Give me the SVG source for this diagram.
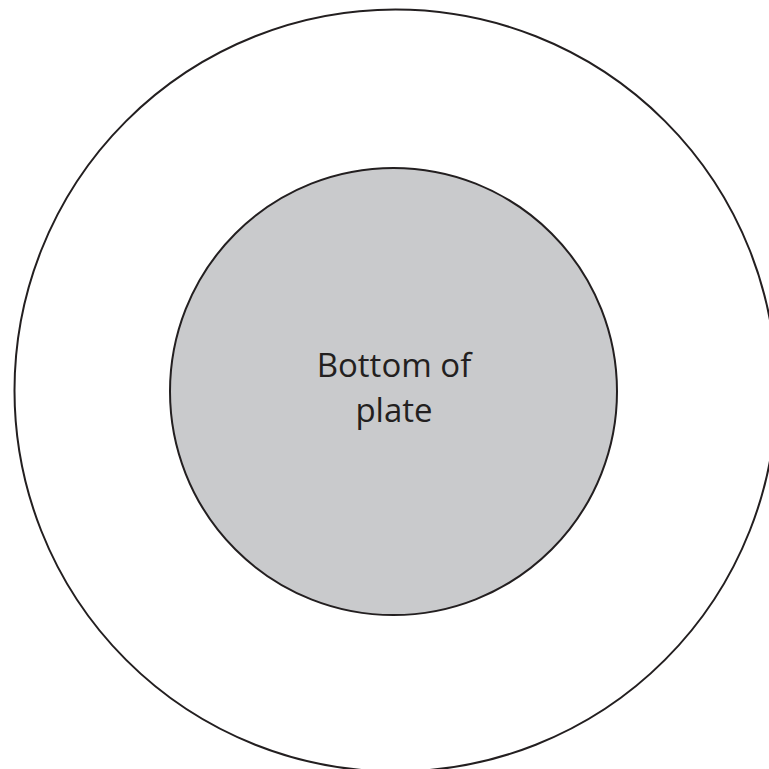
<svg xmlns="http://www.w3.org/2000/svg" width="769" height="769" viewBox="0 0 769 769">
<style>
.ln{stroke:#231f20;stroke-width:2;}
.lbl{font-family:"Open Sans","Liberation Sans",sans-serif;font-size:33px;fill:#231f20;text-anchor:middle;}
</style>
<rect width="769" height="769" fill="#ffffff"/>
<g id="outer">
<circle class="ln" cx="395.5" cy="390.5" r="381" fill="#ffffff"/>
</g>
<g id="bottom-of-plate">
<circle class="ln" cx="393.5" cy="391.5" r="223.5" fill="#c9cacc"/>
<text class="lbl" x="394" y="377">Bottom of</text>
<text class="lbl" x="394" y="422">plate</text>
</g>
</svg>
